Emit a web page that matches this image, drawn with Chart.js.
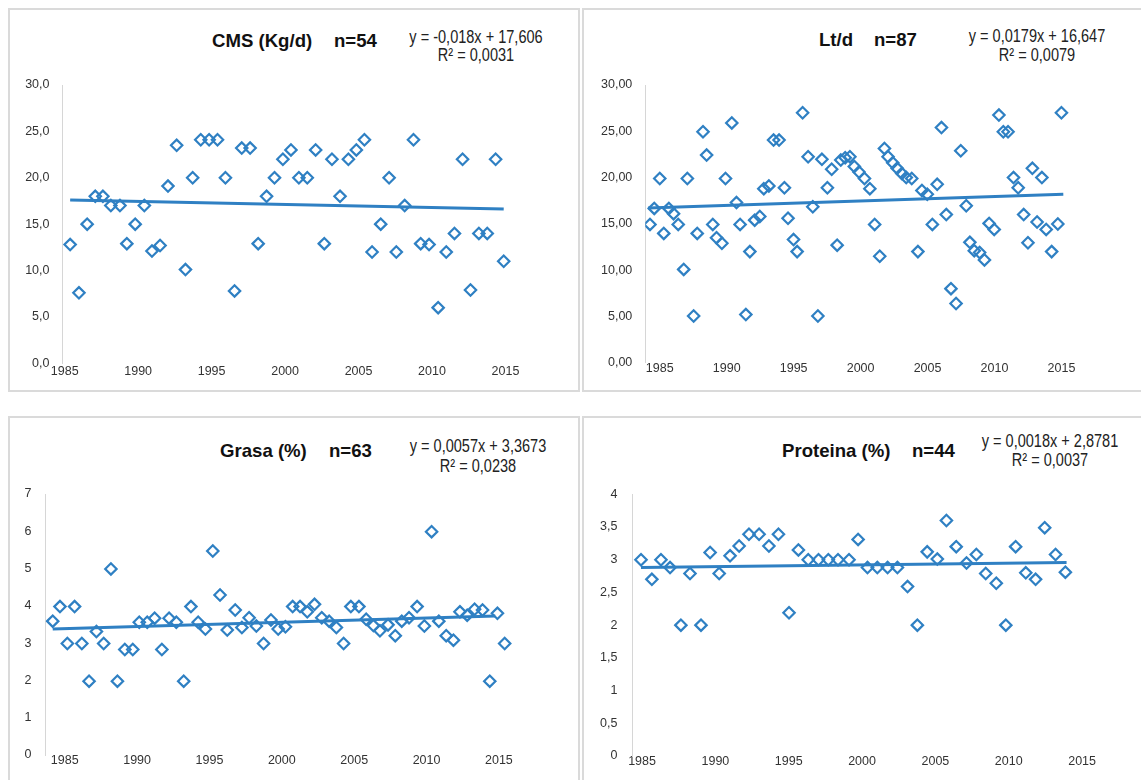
<!DOCTYPE html>
<html>
<head>
<meta charset="utf-8">
<script src="https://cdn.jsdelivr.net/npm/chart.js@4.4.1/dist/chart.umd.min.js"></script>
<style>
  html, body { margin: 0; padding: 0; background: #fff; }
  #page { position: relative; width: 1141px; height: 780px; overflow: hidden; background: #fff; }
  .box { position: absolute; border: 2px solid #dadada; box-sizing: border-box; }
  canvas { position: absolute; }
  .title { position: absolute; font-family: 'Liberation Sans', Arial, sans-serif; font-weight: bold; font-size: 18.6px; line-height: 22px; color: #111; white-space: pre; }
  .eq { position: absolute; font-family: 'Liberation Sans', Arial, sans-serif; font-size: 17.5px; line-height: 20px; color: #222; white-space: pre; transform: translateX(-50%) scaleX(0.83); }
</style>
</head>
<body>
<div id="page">
  <div class="box" style="left:8px;top:8px;width:572px;height:384px"></div>
  <div class="box" style="left:582px;top:8px;width:600px;height:384px"></div>
  <div class="box" style="left:8px;top:416px;width:572px;height:400px"></div>
  <div class="box" style="left:582px;top:416px;width:600px;height:400px"></div>

  <div class="title" style="left:212px;top:30px">CMS (Kg/d)</div>
  <div class="title" style="left:334px;top:30px">n=54</div>
  <div class="eq" style="left:476px;top:27px">y = -0,018x + 17,606</div>
  <div class="eq" style="left:476px;top:45px">R² = 0,0031</div>

  <div class="title" style="left:819px;top:29px">Lt/d</div>
  <div class="title" style="left:874px;top:29px">n=87</div>
  <div class="eq" style="left:1037px;top:26px">y = 0,0179x + 16,647</div>
  <div class="eq" style="left:1037px;top:45px">R² = 0,0079</div>

  <div class="title" style="left:220px;top:440px">Grasa (%)</div>
  <div class="title" style="left:329px;top:440px">n=63</div>
  <div class="eq" style="left:478px;top:436px">y = 0,0057x + 3,3673</div>
  <div class="eq" style="left:478px;top:456px">R² = 0,0238</div>

  <div class="title" style="left:782px;top:440px">Proteina (%)</div>
  <div class="title" style="left:912px;top:440px">n=44</div>
  <div class="eq" style="left:1050px;top:431px">y = 0,0018x + 2,8781</div>
  <div class="eq" style="left:1050px;top:450px">R² = 0,0037</div>
</div>
<script>
// ---- data ----
const yearTicks = [1985, 1990, 1995, 2000, 2005, 2010, 2015];

const cmsYears = [1985.37, 1985.97, 1986.53, 1987.08, 1987.60, 1988.14, 1988.76, 1989.23, 1989.80, 1990.42,
  1990.94, 1991.49, 1992.03, 1992.62, 1993.22, 1993.71, 1994.26, 1994.83, 1995.40, 1995.94,
  1996.56, 1997.05, 1997.62, 1998.17, 1998.74, 1999.28, 1999.85, 2000.40, 2000.94, 2001.51,
  2002.08, 2002.67, 2003.19, 2003.74, 2004.31, 2004.85, 2005.40, 2005.92, 2006.51, 2007.08,
  2007.57, 2008.14, 2008.74, 2009.23, 2009.80, 2010.42, 2010.97, 2011.53, 2012.08, 2012.62,
  2013.19, 2013.76, 2014.33, 2014.88];
const cmsValues = [12.8, 7.6, 15.0, 18.0, 18.0, 17.0, 17.0, 12.9, 15.0, 17.0,
  12.1, 12.7, 19.1, 23.5, 10.1, 20.0, 24.1, 24.1, 24.1, 20.0,
  7.8, 23.2, 23.2, 12.9, 18.0, 20.0, 22.0, 23.0, 20.0, 20.0,
  23.0, 12.9, 22.0, 18.0, 22.0, 23.0, 24.1, 12.0, 15.0, 20.0,
  12.0, 17.0, 24.1, 12.9, 12.8, 6.0, 12.0, 14.0, 22.0, 7.9,
  14.0, 14.0, 22.0, 11.0];
const cmsTrendX = [1985.37, 2014.88];
const cmsTrendY = [17.6, 16.63];
const cmsYTicks = [0, 5, 10, 15, 20, 25, 30];

const ltYears = [1984.27, 1984.59, 1985.00, 1985.30, 1985.68, 1986.03, 1986.38, 1986.79, 1987.06, 1987.53,
  1987.80, 1988.23, 1988.50, 1988.96, 1989.24, 1989.64, 1989.91, 1990.38, 1990.73, 1991.00,
  1991.43, 1991.73, 1992.09, 1992.47, 1992.77, 1993.15, 1993.50, 1993.91, 1994.31, 1994.58,
  1994.99, 1995.26, 1995.67, 1996.08, 1996.43, 1996.81, 1997.11, 1997.52, 1997.84, 1998.25,
  1998.52, 1998.85, 1999.20, 1999.53, 1999.88, 2000.29, 2000.69, 2001.05, 2001.43, 2001.78,
  2002.05, 2002.40, 2002.73, 2003.08, 2003.41, 2003.82, 2004.28, 2004.58, 2004.98, 2005.36,
  2005.72, 2006.04, 2006.40, 2006.75, 2007.13, 2007.48, 2007.89, 2008.16, 2008.49, 2008.89,
  2009.25, 2009.60, 2009.98, 2010.33, 2010.66, 2011.01, 2011.42, 2011.77, 2012.18, 2012.50,
  2012.83, 2013.18, 2013.54, 2013.86, 2014.27, 2014.73, 2015.00];
const ltValues = [14.94, 16.67, 19.9, 13.97, 16.67, 16.1, 14.94, 10.08, 19.9, 5.04,
  13.97, 24.95, 22.43, 14.94, 13.5, 12.9, 19.9, 25.9, 17.3, 14.94,
  5.2, 12.0, 15.4, 15.8, 18.8, 19.1, 24.05, 24.05, 18.9, 15.6,
  13.3, 12.0, 27.0, 22.25, 16.85, 5.04, 21.97, 18.9, 20.9, 12.7,
  21.9, 22.15, 22.25, 21.2, 20.6, 19.9, 18.8, 14.94, 11.5, 23.15,
  22.25, 21.6, 21.0, 20.45, 20.0, 19.9, 12.0, 18.6, 18.2, 14.94,
  19.27, 25.4, 16.0, 8.0, 6.4, 22.9, 16.96, 13.0, 12.1, 11.9,
  11.1, 15.05, 14.4, 26.75, 24.95, 24.95, 20.0, 18.9, 16.0, 12.96,
  21.0, 15.2, 20.0, 14.4, 12.0, 14.98, 27.0];
const ltTrendX = [1984.13, 2015.14];
const ltTrendY = [16.7, 18.2];
const ltYTicks = [0, 5, 10, 15, 20, 25, 30];

const grasaYears = [1984.17, 1984.67, 1985.18, 1985.68, 1986.18, 1986.68, 1987.19, 1987.69, 1988.19, 1988.64,
  1989.15, 1989.70, 1990.15, 1990.70, 1991.21, 1991.71, 1992.21, 1992.71, 1993.22, 1993.72,
  1994.22, 1994.72, 1995.23, 1995.73, 1996.23, 1996.78, 1997.24, 1997.74, 1998.24, 1998.74,
  1999.25, 1999.75, 2000.25, 2000.75, 2001.26, 2001.76, 2002.26, 2002.76, 2003.27, 2003.77,
  2004.27, 2004.77, 2005.33, 2005.83, 2006.33, 2006.78, 2007.34, 2007.84, 2008.29, 2008.79,
  2009.35, 2009.85, 2010.35, 2010.85, 2011.36, 2011.86, 2012.31, 2012.81, 2013.32, 2013.87,
  2014.37, 2014.90, 2015.40];
const grasaValues = [3.59, 3.98, 2.99, 3.98, 2.99, 1.98, 3.31, 2.99, 4.99, 1.98,
  2.83, 2.83, 3.56, 3.56, 3.67, 2.83, 3.67, 3.56, 1.98, 3.98,
  3.56, 3.38, 5.47, 4.29, 3.35, 3.89, 3.42, 3.68, 3.46, 2.99,
  3.62, 3.38, 3.44, 3.98, 3.98, 3.84, 4.04, 3.68, 3.59, 3.42,
  2.99, 3.98, 3.98, 3.64, 3.47, 3.33, 3.49, 3.2, 3.59, 3.68,
  3.98, 3.46, 5.99, 3.59, 3.2, 3.08, 3.84, 3.75, 3.91, 3.89,
  1.98, 3.8, 2.99];
const grasaTrendX = [1984.17, 2014.75];
const grasaTrendY = [3.38, 3.73];
const grasaYTicks = [0, 1, 2, 3, 4, 5, 6, 7];

const protYears = [1984.93, 1985.67, 1986.29, 1986.91, 1987.65, 1988.27, 1989.02, 1989.64, 1990.26, 1991.00,
  1991.62, 1992.29, 1992.98, 1993.65, 1994.30, 1995.02, 1995.66, 1996.33, 1997.03, 1997.70,
  1998.36, 1999.11, 1999.73, 2000.37, 2001.04, 2001.74, 2002.41, 2003.10, 2003.77, 2004.44,
  2005.13, 2005.75, 2006.42, 2007.12, 2007.79, 2008.43, 2009.15, 2009.80, 2010.47, 2011.16,
  2011.83, 2012.45, 2013.19, 2013.86];
const protValues = [3.0, 2.70, 3.0, 2.88, 2.0, 2.79, 2.0, 3.11, 2.79, 3.06,
  3.21, 3.39, 3.39, 3.21, 3.39, 2.19, 3.15, 3.0, 3.0, 3.0,
  3.0, 3.0, 3.31, 2.88, 2.88, 2.88, 2.88, 2.59, 2.0, 3.12,
  3.01, 3.6, 3.2, 2.95, 3.08, 2.79, 2.64, 2.0, 3.2, 2.80,
  2.70, 3.49, 3.08, 2.81];
const protTrendX = [1984.93, 2013.94];
const protTrendY = [2.88, 2.957];
const protYTicks = [0, 0.5, 1, 1.5, 2, 2.5, 3, 3.5, 4];

// ---- drawing ----
const BLUE = '#2f80c3';
const TICK_FONT = { family: "'Liberation Sans', Arial, sans-serif", size: 12.5 };
const X_H = 20;

function toPoints(xs, ys) {
  return xs.map((x, i) => ({ x: x, y: ys[i] }));
}

function commaLabel(digits) {
  return (v) => (digits == null ? String(v) : v.toFixed(digits)).replace('.', ',');
}

function makePanel(p) {
  const cv = document.createElement('canvas');
  cv.width = p.canvas.w;
  cv.height = p.canvas.h;
  cv.style.left = p.canvas.x + 'px';
  cv.style.top = p.canvas.y + 'px';
  document.getElementById('page').appendChild(cv);

  // y axis box runs from the canvas edge to the plot's left side (labels are clipped to it)
  const yw = p.area.left - p.canvas.x;
  const padding = {
    left: 0,
    top: p.area.top - p.canvas.y,
    right: p.canvas.x + p.canvas.w - p.area.right,
    bottom: p.canvas.y + p.canvas.h - p.area.bottom - X_H,
  };

  return new Chart(cv.getContext('2d'), {
    type: 'scatter',
    data: {
      datasets: [
        {
          type: 'line',
          data: toPoints(p.trendX, p.trendY),
          borderColor: BLUE,
          borderWidth: 3,
          pointRadius: 0,
          showLine: true,
          order: 0,
        },
        {
          data: toPoints(p.xs, p.ys),
          pointStyle: 'rectRot',
          pointRadius: 5.7,
          pointBorderWidth: 2.2,
          pointBorderColor: BLUE,
          pointBackgroundColor: 'rgba(0,0,0,0)',
          order: 1,
        },
      ],
    },
    options: {
      responsive: false,
      animation: false,
      layout: { padding: padding },
      plugins: { legend: { display: false }, tooltip: { enabled: false } },
      scales: {
        x: {
          type: 'linear',
          min: p.xMin,
          max: p.xMax,
          afterBuildTicks: (s) => { s.ticks = yearTicks.map((v) => ({ value: v })); },
          afterFit: (s) => { s.height = X_H; },
          grid: { display: false, drawTicks: false },
          border: { display: false },
          ticks: {
            font: TICK_FONT, color: '#333', padding: p.xPad, maxRotation: 0, autoSkip: false,
            callback: (v) => String(v),
          },
        },
        y: {
          min: p.yTicks[0],
          max: p.yTicks[p.yTicks.length - 1],
          afterBuildTicks: (s) => { s.ticks = p.yTicks.map((v) => ({ value: v })); },
          afterFit: (s) => { s.width = yw; },
          grid: { display: false, drawTicks: false },
          border: { display: true, color: '#d6d6d6', width: 1 },
          ticks: { font: TICK_FONT, color: '#333', padding: p.yPad, callback: p.fmt },
        },
      },
    },
  });
}

makePanel({
  canvas: { x: 0, y: 0, w: 580, h: 395 },
  area: { left: 62.5, top: 85, right: 530, bottom: 363.3 },
  xMin: 1984.85, xMax: 2016.67,
  xs: cmsYears, ys: cmsValues, trendX: cmsTrendX, trendY: cmsTrendY,
  yTicks: cmsYTicks, fmt: commaLabel(1), xPad: 1, yPad: 13,
});

makePanel({
  canvas: { x: 582, y: 0, w: 559, h: 395 },
  area: { left: 645.3, top: 85, right: 1100, bottom: 362.7 },
  xMin: 1983.92, xMax: 2017.88,
  xs: ltYears, ys: ltValues, trendX: ltTrendX, trendY: ltTrendY,
  yTicks: ltYTicks, fmt: commaLabel(2), xPad: -2, yPad: 13,
});

makePanel({
  canvas: { x: 0, y: 400, w: 580, h: 380 },
  area: { left: 45.5, top: 494, right: 530, bottom: 755 },
  xMin: 1983.67, xMax: 2017.15,
  xs: grasaYears, ys: grasaValues, trendX: grasaTrendX, trendY: grasaTrendY,
  yTicks: grasaYTicks, fmt: commaLabel(null), xPad: -2, yPad: 14,
});

makePanel({
  canvas: { x: 582, y: 400, w: 559, h: 380 },
  area: { left: 632.5, top: 494.3, right: 1100, bottom: 756 },
  xMin: 1984.35, xMax: 2016.22,
  xs: protYears, ys: protValues, trendX: protTrendX, trendY: protTrendY,
  yTicks: protYTicks, fmt: commaLabel(null), xPad: -2, yPad: 15,
});
</script>
</body>
</html>
